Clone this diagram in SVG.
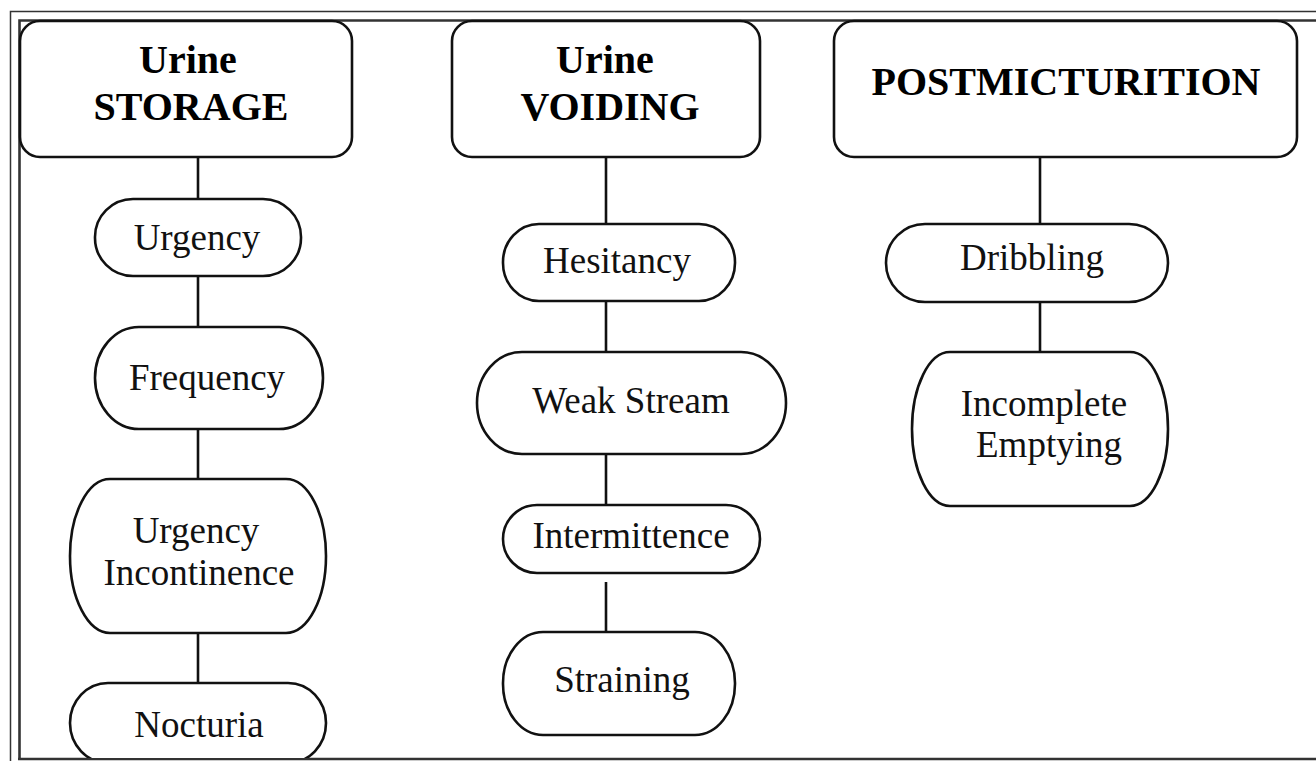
<svg xmlns="http://www.w3.org/2000/svg" width="1316" height="761" viewBox="0 0 1316 761">
<style>
.box{fill:#fff;stroke:#111;stroke-width:2.6}
.hdr{font-family:"Liberation Serif","Times New Roman",serif;font-size:40px;font-weight:bold;fill:#000;text-anchor:middle}
.lbl{font-family:"Liberation Serif","Times New Roman",serif;font-size:37px;fill:#111;text-anchor:middle}
.con line{stroke:#111;stroke-width:2.6}
.frame{fill:none;stroke:#333}
</style>
<defs>
<clipPath id="clipBottom"><rect x="0" y="0" width="1316" height="758"/></clipPath>
</defs>
<rect width="1316" height="761" fill="#fff"/>
<g id="frame">
<path class="frame" d="M10.5,761 V11.5 H1316" stroke-width="1.5"/>
<path class="frame" d="M19.5,759 V20.5 H1316" stroke-width="2.6"/>
<path class="frame" d="M18,759 H1316" stroke-width="2.6"/>
</g>
<g id="connectors" class="con">
<line x1="198" y1="157" x2="198" y2="199"/>
<line x1="198" y1="276" x2="198" y2="327"/>
<line x1="198" y1="429" x2="198" y2="479"/>
<line x1="198" y1="633" x2="198" y2="683"/>
<line x1="606" y1="157" x2="606" y2="224"/>
<line x1="606" y1="301" x2="606" y2="352"/>
<line x1="606" y1="454" x2="606" y2="505"/>
<line x1="606" y1="582" x2="606" y2="632"/>
<line x1="1040" y1="157" x2="1040" y2="224"/>
<line x1="1040" y1="302" x2="1040" y2="352"/>
</g>
<g id="storage">
<rect class="box" x="20" y="21" width="332" height="136" rx="20"/>
<text class="hdr" x="188" y="73">Urine</text>
<text class="hdr" x="191" y="120">STORAGE</text>
</g>
<g id="voiding">
<rect class="box" x="452" y="21" width="308" height="136" rx="20"/>
<text class="hdr" x="605" y="73">Urine</text>
<text class="hdr" x="610" y="120">VOIDING</text>
</g>
<g id="postmicturition">
<rect class="box" x="834" y="21" width="463" height="136" rx="20"/>
<text class="hdr" x="1066" y="95">POSTMICTURITION</text>
</g>
<g id="urgency">
<rect class="box" x="95" y="199" width="206" height="77" rx="38" ry="38"/>
<text class="lbl" x="197" y="250">Urgency</text>
</g>
<g id="frequency">
<rect class="box" x="95" y="327" width="228" height="102" rx="44" ry="51"/>
<text class="lbl" x="207" y="390">Frequency</text>
</g>
<g id="urgency-incontinence">
<rect class="box" x="70" y="479" width="256" height="154" rx="40" ry="77"/>
<text class="lbl" x="196" y="543">Urgency</text>
<text class="lbl" x="199" y="585">Incontinence</text>
</g>
<g id="nocturia">
<rect class="box" x="70" y="683" width="256" height="80" rx="38" ry="40" clip-path="url(#clipBottom)"/>
<text class="lbl" x="199" y="737">Nocturia</text>
</g>
<g id="hesitancy">
<rect class="box" x="503" y="224" width="232" height="77" rx="36" ry="38"/>
<text class="lbl" x="617" y="273">Hesitancy</text>
</g>
<g id="weak-stream">
<rect class="box" x="477" y="352" width="309" height="102" rx="45" ry="51"/>
<text class="lbl" x="631" y="413">Weak Stream</text>
</g>
<g id="intermittence">
<rect class="box" x="503" y="505" width="257" height="68" rx="34" ry="34"/>
<text class="lbl" x="631" y="548">Intermittence</text>
</g>
<g id="straining">
<rect class="box" x="503" y="632" width="232" height="103" rx="40" ry="51"/>
<text class="lbl" x="622" y="692">Straining</text>
</g>
<g id="dribbling">
<rect class="box" x="886" y="224" width="282" height="78" rx="39" ry="39"/>
<text class="lbl" x="1032" y="270">Dribbling</text>
</g>
<g id="incomplete-emptying">
<rect class="box" x="912" y="352" width="256" height="154" rx="38" ry="77"/>
<text class="lbl" x="1044" y="416">Incomplete</text>
<text class="lbl" x="1049" y="457">Emptying</text>
</g>
</svg>
